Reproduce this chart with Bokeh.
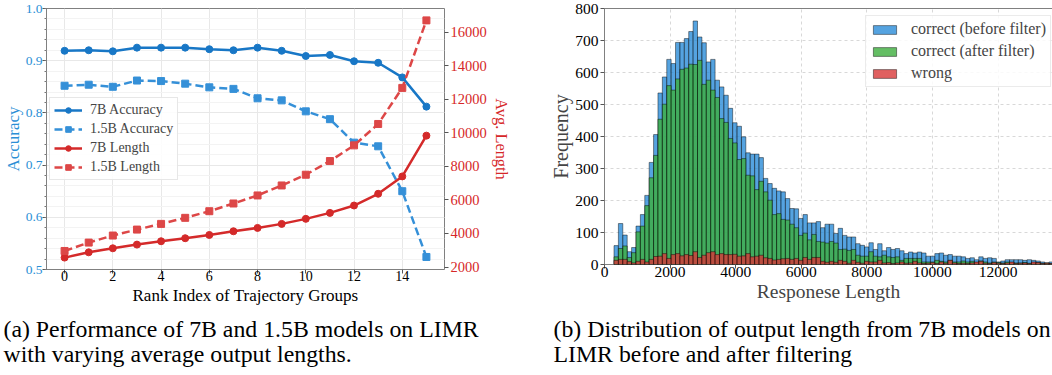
from bokeh.plotting import figure
from bokeh.models import (Range1d, LinearAxis, Legend, LegendItem, FixedTicker,
                          ColumnDataSource, PrintfTickFormatter)
from bokeh.layouts import row, column
from bokeh.embed import file_html
from bokeh.resources import INLINE
from bokeh.core.properties import value

FONT = "Liberation Serif"

# ---------------- data: left panel ----------------
rank = list(range(16))
acc_7b = [0.919, 0.920, 0.918, 0.925, 0.925, 0.925, 0.922, 0.920, 0.925, 0.919,
          0.909, 0.911, 0.899, 0.896, 0.868, 0.812]
acc_15b = [0.852, 0.854, 0.850, 0.862, 0.861, 0.856, 0.849, 0.846, 0.828, 0.824,
           0.803, 0.788, 0.743, 0.736, 0.650, 0.524]
len_7b = [2560, 2875, 3115, 3335, 3535, 3715, 3910, 4130, 4330, 4570,
          4870, 5225, 5665, 6365, 7400, 9830]
len_15b = [2955, 3455, 3875, 4230, 4570, 4930, 5325, 5785, 6265, 6860,
           7500, 8315, 9250, 10525, 12675, 16700]
x_ticks_left = [0, 2, 4, 6, 8, 10, 12, 14]
acc_ticks = [0.5, 0.6, 0.7, 0.8, 0.9, 1.0]
len_ticks = [2000, 4000, 6000, 8000, 10000, 12000, 14000, 16000]

# ---------------- data: right panel (histogram) ----------------
hist_bin_start = 290
hist_bin_width = 134
hist_before = [59, 128, 92, 40, 53, 120, 156, 216, 319, 406, 536, 586, 641, 628, 694, 694, 706, 728, 761,
               711, 693, 633, 641, 576, 555, 529, 488, 443, 432, 399, 349, 345, 345, 334, 269, 253, 238, 230, 227,
               206, 175, 174, 144, 156, 130, 130, 134, 115, 126, 126, 97, 113, 91, 86, 86, 65, 60, 55, 68,
               47, 65, 43, 53, 47, 50, 43, 34, 39, 36, 39, 36, 26, 26, 34, 36, 29, 31, 26, 26,
               24, 19, 21, 15, 24, 19, 21, 19, 8, 11, 15, 15, 15, 15, 13, 15, 13, 11, 8, 5, 8]
hist_after = [24, 50, 58, 22, 37, 102, 120, 184, 271, 341, 454, 501, 559, 545, 580, 610, 614, 626, 625,
              638, 563, 576, 545, 522, 456, 444, 394, 380, 328, 331, 279, 277, 234, 260, 227, 201, 156, 159, 141,
              139, 126, 115, 91, 98, 77, 94, 72, 70, 67, 72, 67, 47, 48, 44, 47, 29, 26, 26, 40,
              26, 24, 29, 24, 22, 24, 13, 19, 19, 19, 19, 8, 8, 8, 13, 10, 8, 13, 8, 8,
              11, 8, 10, 6, 11, 8, 5, 8, 6, 5, 8, 6, 5, 5, 6, 4, 5, 6, 4, 5, 3]
hist_wrong = [13, 16, 16, 9, 5, 10, 16, 8, 16, 25, 26, 34, 19, 31, 34, 27, 31, 28, 40,
              22, 29, 37, 40, 31, 34, 31, 31, 32, 26, 27, 34, 24, 26, 29, 21, 19, 14, 16, 18,
              19, 16, 19, 13, 22, 16, 22, 22, 10, 7, 10, 7, 13, 10, 4, 13, 7, 4, 10, 8,
              8, 13, 5, 6, 3, 5, 8, 4, 5, 10, 5, 3, 4, 6, 3, 8, 4, 13, 5, 3,
              4, 3, 5, 8, 10, 4, 3, 6, 4, 3, 5, 8, 3, 4, 5, 3, 8, 6, 3, 4, 3]
hist_labels = ["correct (before filter)", "correct (after filter)", "wrong"]
x_ticks_right = [0, 2000, 4000, 6000, 8000, 10000, 12000]
freq_ticks = [0, 100, 200, 300, 400, 500, 600, 700, 800]

captions = ["(a) Performance of 7B and 1.5B models on LIMR",
            "with varying average output lengths.",
            "(b) Distribution of output length from 7B models on",
            "LIMR before and after filtering"]

# ---------------- styles ----------------
BLUE = "#1877c6"
BLUE_D = "#3590d8"
BLUE_TXT = "#2b8fd6"
RED = "#d42a2a"
RED_D = "#dd4747"
RED_TXT = "#d62728"
H_BLUE = "#2a8cd8"
H_GREEN = "#3dae3d"
H_RED = "#d83838"
SPINE = "#808080"

# ================= left figure =================
p1 = figure(frame_width=398, frame_height=261,
            x_range=Range1d(-0.75, 15.75), y_range=Range1d(0.5, 1.0),
            output_backend="svg", toolbar_location=None,
            min_border_left=45, min_border_right=102, min_border_top=8, min_border_bottom=39)
p1.extra_y_ranges = {"len": Range1d(1851, 17408)}
p1.outline_line_color = SPINE

xa = p1.xaxis[0]
xa.ticker = FixedTicker(ticks=x_ticks_left)
xa.axis_label = "Rank Index of Trajectory Groups"
ya = p1.yaxis[0]
ya.ticker = FixedTicker(ticks=acc_ticks,
                        minor_ticks=[round(0.5 + 0.02 * i, 2) for i in range(26)])
ya.formatter = PrintfTickFormatter(format="%.1f")
ya.axis_label = "Accuracy"

ra = LinearAxis(y_range_name="len", axis_label="Avg. Length",
                ticker=FixedTicker(ticks=len_ticks))
p1.add_layout(ra, "right")

for ax, size, lsize in ((xa, "14px", "17px"), (ya, "13.5px", "17px"), (ra, "14.5px", "16.4px")):
    ax.axis_line_color = None
    ax.major_tick_in = 0
    ax.major_tick_out = 4
    ax.minor_tick_in = 0
    ax.minor_tick_out = 2
    ax.major_tick_line_color = "#555555"
    ax.minor_tick_line_color = "#777777"
    ax.major_label_text_font = FONT
    ax.major_label_text_font_size = size
    ax.axis_label_text_font = FONT
    ax.axis_label_text_font_size = lsize
    ax.axis_label_text_font_style = "normal"
    ax.major_label_standoff = 2
    ax.axis_label_standoff = 2
xa.minor_tick_line_color = None
ra.minor_tick_line_color = None
xa.major_label_standoff = -3
ya.major_label_text_color = BLUE_TXT
ya.axis_label_text_color = BLUE_TXT
ya.major_label_standoff = 0
ya.axis_label_standoff = 0
ra.major_label_text_color = RED_TXT
ra.axis_label_text_color = RED_TXT
xa.major_label_text_color = "black"
xa.axis_label_text_color = "black"

p1.xgrid.ticker = FixedTicker(ticks=x_ticks_left)
p1.xgrid.grid_line_color = "#e8e8e8"
p1.ygrid.grid_line_color = "#e8e8e8"
p1.ygrid.minor_grid_line_color = "#f3f3f3"

l1 = p1.line(rank, acc_7b, line_color=BLUE, line_width=2.5)
m1 = p1.scatter(rank, acc_7b, marker="circle", size=7, color=BLUE)
l2 = p1.line(rank, acc_15b, line_color=BLUE_D, line_width=2.5, line_dash="8 4")
m2 = p1.scatter(rank, acc_15b, marker="square", size=7, color=BLUE_D)
l3 = p1.line(rank, len_7b, y_range_name="len", line_color=RED, line_width=2.5)
m3 = p1.scatter(rank, len_7b, y_range_name="len", marker="circle", size=7, color=RED)
l4 = p1.line(rank, len_15b, y_range_name="len", line_color=RED_D, line_width=2.5, line_dash="8 4")
m4 = p1.scatter(rank, len_15b, y_range_name="len", marker="square", size=7, color=RED_D)

leg1 = Legend(items=[LegendItem(label="7B Accuracy", renderers=[l1, m1]),
                     LegendItem(label="1.5B Accuracy", renderers=[l2, m2]),
                     LegendItem(label="7B Length", renderers=[l3, m3]),
                     LegendItem(label="1.5B Length", renderers=[l4, m4])],
              location=(3, 89))
leg1.label_text_font = FONT
leg1.label_text_font_size = "14px"
leg1.glyph_width = 28
leg1.glyph_height = 14
leg1.label_height = 14
leg1.spacing = 3
leg1.padding = 4
leg1.margin = 0
leg1.label_standoff = 8
leg1.border_line_color = "#d0d0d0"
leg1.background_fill_alpha = 0.85
p1.add_layout(leg1)

# ================= right figure =================
p2 = figure(frame_width=448, frame_height=256,
            x_range=Range1d(0, 13660), y_range=Range1d(0, 800),
            output_backend="svg", toolbar_location=None,
            min_border_left=58, min_border_right=1, min_border_top=8, min_border_bottom=44)
p2.outline_line_color = SPINE

edges_l = [hist_bin_start + i * hist_bin_width for i in range(len(hist_before))]
edges_r = [e + hist_bin_width for e in edges_l]
src = ColumnDataSource(dict(left=edges_l, right=edges_r,
                            before=hist_before, after=hist_after, wrong=hist_wrong))
hb = p2.quad(left="left", right="right", bottom=0, top="before", source=src,
             fill_color=H_BLUE, fill_alpha=0.8, line_color="black", line_alpha=0.55, line_width=0.8)
hg = p2.quad(left="left", right="right", bottom=0, top="after", source=src,
             fill_color=H_GREEN, fill_alpha=0.8, line_color="black", line_alpha=0.55, line_width=0.8)
hr = p2.quad(left="left", right="right", bottom=0, top="wrong", source=src,
             fill_color=H_RED, fill_alpha=0.8, line_color="black", line_alpha=0.55, line_width=0.8)

xb = p2.xaxis[0]
xb.ticker = FixedTicker(ticks=x_ticks_right)
xb.axis_label = "Responese Length"
yb = p2.yaxis[0]
yb.ticker = FixedTicker(ticks=freq_ticks)
yb.axis_label = "Frequency"
for ax, lsize in ((xb, "19.5px"), (yb, "20px")):
    ax.axis_line_color = None
    ax.major_tick_in = 0
    ax.major_tick_out = 4
    ax.minor_tick_line_color = None
    ax.major_tick_line_color = "#555555"
    ax.major_label_text_font = FONT
    ax.major_label_text_font_size = "15.5px"
    ax.major_label_text_color = "black"
    ax.axis_label_text_font = FONT
    ax.axis_label_text_font_size = lsize
    ax.axis_label_text_font_style = "normal"
    ax.major_label_standoff = 2
    ax.axis_label_standoff = 0
xb.major_label_standoff = -2
xb.axis_label_standoff = 1
p2.xgrid.ticker = FixedTicker(ticks=x_ticks_right)
p2.xgrid.grid_line_color = "#d8d8d8"
p2.xgrid.grid_line_dash = "3 3"
p2.ygrid.grid_line_color = "#d8d8d8"
p2.ygrid.grid_line_dash = "3 3"

leg2 = Legend(items=[LegendItem(label=hist_labels[0], renderers=[hb]),
                     LegendItem(label=hist_labels[1], renderers=[hg]),
                     LegendItem(label=hist_labels[2], renderers=[hr])],
              location=(261, 177))
leg2.label_text_font = FONT
leg2.label_text_font_size = "16px"
leg2.glyph_width = 29
leg2.glyph_height = 11
leg2.label_height = 16
leg2.spacing = 4
leg2.padding = 4
leg2.margin = 0
leg2.label_standoff = 12
leg2.border_line_color = "#d8d8d8"
leg2.background_fill_alpha = 0.85
p2.add_layout(leg2)

# ================= captions =================
p3 = figure(width=1052, height=67, x_range=Range1d(0, 1052), y_range=Range1d(67, 0),
            output_backend="svg", toolbar_location=None,
            min_border_left=0, min_border_right=0, min_border_top=0, min_border_bottom=0)
p3.axis.visible = False
p3.grid.visible = False
p3.outline_line_color = None
p3.text(x=[3, 3, 553, 553], y=[20, 45, 20, 45], text=captions,
        text_font=value(FONT), text_font_size="23.8px", text_baseline="middle",
        text_align="left", text_color="black")

layout = column(row(p1, p2), p3)
open("out.html", "w").write(file_html(layout, INLINE))
